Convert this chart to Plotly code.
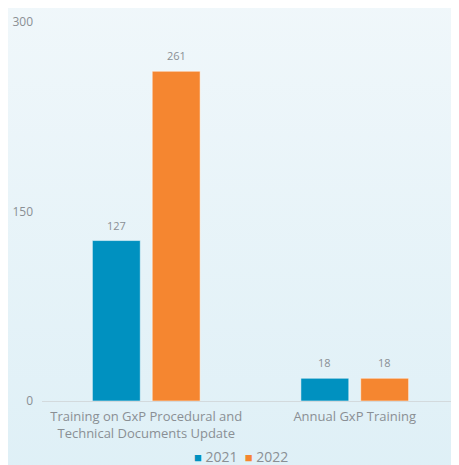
import base64
import plotly.graph_objects as go

categories = ["Training on GxP Procedural and<br>Technical Documents Update",
              "Annual GxP Training"]
years = ["2021", "2022"]
values_2021 = [127, 18]
values_2022 = [261, 18]
y_ticks = [0, 150, 300]

colors = {"2021": "#0091c0", "2022": "#f58630"}
text_gray = "#8a8f94"

# soft vertical gradient for the background
svg = ('<svg xmlns="http://www.w3.org/2000/svg" width="10" height="100" preserveAspectRatio="none">'
       '<defs><linearGradient id="g" x1="0" y1="0" x2="0" y2="1">'
       '<stop offset="0" stop-color="#f2f8fb"/><stop offset="1" stop-color="#ddeff6"/>'
       '</linearGradient></defs><rect width="10" height="100" fill="url(#g)"/></svg>')
bg_src = "data:image/svg+xml;base64," + base64.b64encode(svg.encode()).decode()

fig = go.Figure()
for year, vals in zip(years, [values_2021, values_2022]):
    fig.add_trace(go.Bar(x=categories, y=vals, name=year,
                         marker=dict(color=colors[year],
                                     line=dict(color="rgba(255,255,255,0.5)", width=1)),
                         showlegend=False))

# value labels above each bar
annotations = []
for shift, vals in zip([-30, 30], [values_2021, values_2022]):
    for cat, v in zip(categories, vals):
        annotations.append(dict(x=cat, y=v, xref="x", yref="y", text=str(v),
                                showarrow=False, xshift=shift, yanchor="bottom",
                                yshift=6, font=dict(size=11, color=text_gray)))

# compact legend: coloured square right next to the year
legend_text = "&nbsp;&nbsp;".join(
    f'<span style="color:{colors[y]};font-size:13px">■</span> {y}' for y in years)
annotations.append(dict(x=0.477, y=-0.146, xref="paper", yref="paper",
                        text=legend_text, showarrow=False, xanchor="center",
                        yanchor="middle", font=dict(size=14, color=text_gray)))

fig.update_layout(
    width=451, height=457,
    margin=dict(l=34, r=0, t=14, b=64),
    paper_bgcolor="#eaf5f9",
    plot_bgcolor="rgba(0,0,0,0)",
    font=dict(family="Open Sans, Noto Sans, sans-serif", size=13, color=text_gray),
    barmode="group", bargap=0.426, bargroupgap=0.2,
    showlegend=False,
    annotations=annotations,
    images=[dict(source=bg_src, xref="paper", yref="paper", x=-0.2, y=1.2,
                 sizex=1.4, sizey=1.5, xanchor="left", yanchor="top",
                 sizing="stretch", layer="below")],
)
fig.update_xaxes(showline=True, linecolor="#d3dadd", linewidth=1, ticks="",
                 ticklabelstandoff=3, tickfont=dict(size=13, color=text_gray))
fig.update_yaxes(range=[0, 300], tickvals=y_ticks, showgrid=False, zeroline=False,
                 showline=False, ticks="", ticklabelstandoff=8,
                 tickfont=dict(size=12, color=text_gray))

fig.write_html("out.html")
